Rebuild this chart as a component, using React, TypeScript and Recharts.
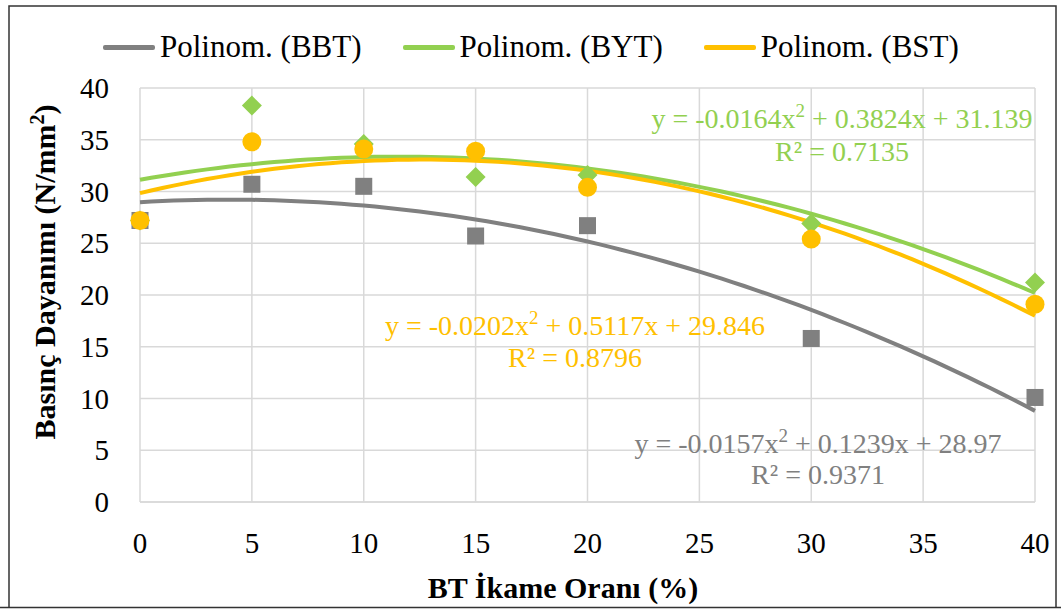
import { ComposedChart, Line, Scatter, XAxis, YAxis, CartesianGrid, Legend } from "recharts";

// BT replacement ratio (%)
const ratios = [0, 5, 10, 15, 20, 30, 40];

// compressive strength (N/mm²) per mix
const bbtValues = [27.2, 30.7, 30.5, 25.7, 26.7, 15.8, 10.1];
const bytValues = [27.2, 38.3, 34.6, 31.4, 31.6, 26.9, 21.2];
const bstValues = [27.2, 34.8, 34.1, 33.9, 30.4, 25.4, 19.1];

// second order trendline coefficients [a, b, c] -> a*x^2 + b*x + c
const bbtFit = [-0.0157, 0.1239, 28.97];
const bytFit = [-0.0164, 0.3824, 31.139];
const bstFit = [-0.0202, 0.5117, 29.846];

const bbtR2 = "0.9371";
const bytR2 = "0.7135";
const bstR2 = "0.8796";

const xTicks = [0, 5, 10, 15, 20, 25, 30, 35, 40];
const yTicks = [0, 5, 10, 15, 20, 25, 30, 35, 40];

const GRAY = "#808080";
const GREEN = "#92D050";
const GOLD = "#FFC000";
const FONT = "Liberation Serif";

const toPoints = (vals: number[]) => ratios.map((x, i) => ({ x, y: vals[i] }));

const trend = (c: number[]) => {
  const pts = [];
  for (let x = 0; x <= 40; x += 0.5) pts.push({ x, y: c[0] * x * x + c[1] * x + c[2] });
  return pts;
};

const Eq = ({ c, x, y, color }: { c: number[]; x: number; y: number; color: string }) => (
  <text x={x} y={y} fill={color} textAnchor="middle" fontFamily={FONT} fontSize={28}>
    {`y = ${c[0]}x`}
    <tspan fontSize={19} dy={-11}>2</tspan>
    <tspan dy={11}>{` + ${c[1]}x + ${c[2]}`}</tspan>
  </text>
);

const Square = (props: any) => (
  <rect x={props.cx - 8.5} y={props.cy - 8.5} width={17} height={17} fill={GRAY} />
);
const Diamond = (props: any) => {
  const { cx, cy } = props;
  const r = 10;
  return <polygon points={`${cx},${cy - r} ${cx + r},${cy} ${cx},${cy + r} ${cx - r},${cy}`} fill={GREEN} />;
};
const Dot = (props: any) => <circle cx={props.cx} cy={props.cy} r={9.5} fill={GOLD} />;

const XTick = (props: any) => (
  <text x={props.x} y={props.y + 49} textAnchor="middle" fontSize={29} fontFamily={FONT} fill="#000">
    {props.payload.value}
  </text>
);
const YTick = (props: any) => (
  <text x={props.x - 29} y={props.y + 10} textAnchor="end" fontSize={29} fontFamily={FONT} fill="#000">
    {props.payload.value}
  </text>
);

const legendItems = [
  { name: "Polinom. (BBT)", color: GRAY },
  { name: "Polinom. (BYT)", color: GREEN },
  { name: "Polinom. (BST)", color: GOLD },
];

const LegendRow = () => (
  <div style={{ position: "absolute", left: 103, top: 27, display: "flex", alignItems: "center", fontFamily: FONT, fontSize: 31, lineHeight: "40px", whiteSpace: "nowrap" }}>
    {legendItems.map((it, i) => (
      <div key={i} style={{ display: "flex", alignItems: "center", marginRight: 41 }}>
        <div style={{ width: 52, height: 5, background: it.color, borderRadius: 2, marginRight: 5 }} />
        <span>{it.name}</span>
      </div>
    ))}
  </div>
);

export default function App() {
  return (
    <div style={{ position: "absolute", left: 0, top: 0, width: 1061, height: 610, background: "#fff", fontFamily: FONT }}>
      <ComposedChart width={1061} height={610} margin={{ top: 88, right: 26, bottom: 0, left: 0 }}>
        <CartesianGrid stroke="#D9D9D9" strokeWidth={1.5} />
        <XAxis
          type="number"
          dataKey="x"
          domain={[0, 40]}
          ticks={xTicks}
          height={108}
          axisLine={{ stroke: "#D9D9D9", strokeWidth: 1.5 }}
          tickLine={false}
          tickSize={0}
          tick={<XTick />}
          interval={0}
        />
        <YAxis
          type="number"
          dataKey="y"
          domain={[0, 40]}
          ticks={yTicks}
          width={140}
          axisLine={false}
          tickLine={false}
          tickSize={0}
          tick={<YTick />}
          interval={0}
        />
        <Legend content={() => <LegendRow />} wrapperStyle={{ position: "absolute", left: 0, top: 0, width: 1061, height: 0 }} />
        <Line data={trend(bbtFit)} dataKey="y" stroke={GRAY} strokeWidth={4} dot={false} activeDot={false} isAnimationActive={false} name="Polinom. (BBT)" />
        <Line data={trend(bytFit)} dataKey="y" stroke={GREEN} strokeWidth={4} dot={false} activeDot={false} isAnimationActive={false} name="Polinom. (BYT)" />
        <Line data={trend(bstFit)} dataKey="y" stroke={GOLD} strokeWidth={4} dot={false} activeDot={false} isAnimationActive={false} name="Polinom. (BST)" />
        <Scatter data={toPoints(bytValues)} dataKey="y" shape={<Diamond />} isAnimationActive={false} legendType="none" />
        <Scatter data={toPoints(bbtValues)} dataKey="y" shape={<Square />} isAnimationActive={false} legendType="none" />
        <Scatter data={toPoints(bstValues)} dataKey="y" shape={<Dot />} isAnimationActive={false} legendType="none" />
      </ComposedChart>
      <svg width={1061} height={610} style={{ position: "absolute", left: 0, top: 0, pointerEvents: "none" }}>
        <path d="M9 607 L9 6 L1056 6 L1056 607 M0 607.5 L1061 607.5" stroke="#333" strokeWidth={1.5} fill="none" />
        <Eq c={bytFit} x={842} y={128} color={GREEN} />
        <text x={842} y={161} fill={GREEN} textAnchor="middle" fontFamily={FONT} fontSize={28}>R² = {bytR2}</text>
        <Eq c={bstFit} x={575} y={335} color={GOLD} />
        <text x={575} y={367} fill={GOLD} textAnchor="middle" fontFamily={FONT} fontSize={28}>R² = {bstR2}</text>
        <Eq c={bbtFit} x={818} y={453} color={GRAY} />
        <text x={818} y={484} fill={GRAY} textAnchor="middle" fontFamily={FONT} fontSize={28}>R² = {bbtR2}</text>
        <text x={563} y={598} textAnchor="middle" fontFamily={FONT} fontWeight="bold" fontSize={30} fill="#000">
          BT İkame Oranı (%)
        </text>
        <text transform="translate(55,272) rotate(-90)" textAnchor="middle" fontFamily={FONT} fontWeight="bold" fontSize={30} fill="#000">
          Basınç Dayanımı (N/mm
          <tspan fontSize={20} dy={-11}>2</tspan>
          <tspan dy={11}>)</tspan>
        </text>
      </svg>
    </div>
  );
}
